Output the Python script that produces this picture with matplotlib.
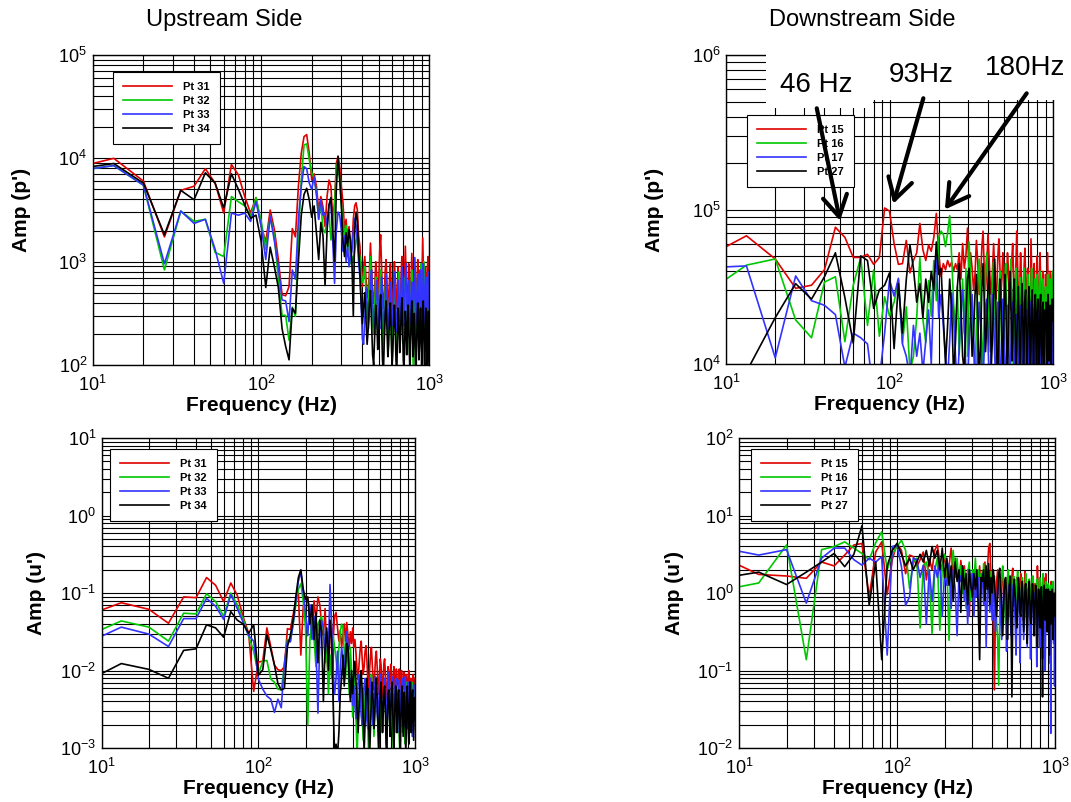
import numpy as np
import matplotlib
matplotlib.use('Agg')
import matplotlib.pyplot as plt
from matplotlib.patches import Rectangle
from matplotlib.ticker import NullFormatter

plt.rcParams['font.family'] = ['Liberation Sans', 'DejaVu Sans']
plt.rcParams['mathtext.fontset'] = 'custom'
plt.rcParams['mathtext.rm'] = 'Liberation Sans'

# FFT bins, 6.67 Hz resolution
freq = np.arange(1, 151) * 20.0 / 3.0

# ---- amplitudes, stored as log10 values ----
# upstream p'
up_p31 = [3.88, 4.00, 3.78, 3.24, 3.69, 3.73, 3.90, 3.76, 3.47, 3.94,
          3.84, 3.63, 3.47, 3.62, 3.35, 3.19, 3.50, 3.31, 3.02, 2.68,
          2.67, 2.76, 3.32, 3.24, 3.73, 4.05, 4.21, 4.23, 4.05, 3.79,
          3.85, 3.73, 3.50, 3.63, 3.53, 3.34, 3.63, 3.79, 3.73, 3.41,
          3.57, 3.95, 4.02, 3.92, 3.73, 3.57, 3.31, 3.41, 3.21, 3.34,
          3.08, 3.15, 3.41, 3.54, 3.57, 3.50, 3.25, 3.15, 2.92, 2.76,
          2.95, 3.05, 2.85, 2.65, 2.72, 2.90, 3.18, 2.95, 2.70, 2.60, 2.75, 3.00, 2.88, 2.62, 2.78,
          3.10, 3.26, 2.95, 2.70, 2.55, 2.68, 2.92, 3.02, 2.80, 2.58, 2.65, 2.85, 2.98, 2.75, 2.52,
          2.60, 2.82, 3.00, 2.85, 2.65, 2.55, 2.78, 2.95, 2.72, 2.50, 2.62, 2.88, 3.05, 2.82, 2.60,
          2.70, 2.92, 3.15, 2.90, 2.62, 2.55, 2.75, 2.98, 2.80, 2.58, 2.68, 2.90, 3.08, 2.85, 2.60,
          2.52, 2.72, 2.95, 2.78, 2.55, 2.65, 2.88, 3.02, 2.80, 2.60, 2.70, 2.92, 2.75, 2.55, 2.68,
          2.95, 3.23, 2.98, 2.70, 2.58, 2.75, 2.95, 2.80, 2.55, 2.65, 2.90, 3.05, 2.80, 2.62, 2.85]
up_p32 = [3.86, 3.93, 3.74, 2.92, 3.49, 3.39, 3.41, 3.09, 3.05, 3.63,
          3.58, 3.54, 3.44, 3.62, 3.40, 3.12, 3.44, 3.25, 2.83, 2.48,
          2.48, 2.24, 2.56, 2.47, 3.24, 3.79, 4.13, 4.14, 3.99, 3.86,
          3.81, 3.67, 3.41, 3.57, 3.31, 3.28, 3.41, 3.47, 3.21, 3.31,
          3.54, 3.89, 3.98, 3.79, 3.54, 3.41, 3.25, 3.35, 3.10, 3.25,
          2.98, 3.05, 3.00, 3.10, 3.20, 3.25, 3.10, 3.05, 2.90, 2.80,
          2.85, 2.95, 2.70, 2.45, 2.55, 2.80, 3.05, 2.75, 2.40, 2.30, 2.55, 2.85, 2.70, 2.35, 2.50,
          2.78, 2.92, 2.65, 2.35, 2.15, 2.40, 2.72, 2.85, 2.55, 2.25, 2.35, 2.62, 2.78, 2.45, 1.95,
          2.20, 2.55, 2.80, 2.62, 2.30, 2.15, 2.45, 2.72, 2.90, 2.60, 2.30, 2.45, 2.75, 2.55, 2.20,
          2.35, 2.65, 2.85, 2.60, 2.25, 2.10, 2.42, 2.70, 2.55, 2.28, 2.45, 2.75, 2.92, 2.62, 2.05,
          1.95, 2.35, 2.65, 2.50, 2.25, 2.42, 2.72, 2.88, 2.60, 2.30, 2.40, 2.68, 2.82, 2.98, 2.65,
          2.40, 2.60, 2.85, 3.00, 2.70, 2.42, 2.30, 2.55, 2.78, 2.62, 2.35, 2.25, 2.58, 2.88, 2.70]
up_p33 = [3.86, 3.93, 3.74, 2.98, 3.49, 3.37, 3.41, 3.12, 2.79, 3.47,
          3.45, 3.47, 3.39, 3.58, 3.35, 3.02, 3.44, 3.20, 2.95, 2.63,
          2.62, 2.42, 2.92, 2.83, 3.41, 3.73, 3.92, 3.90, 3.76, 3.70,
          3.82, 3.65, 3.41, 3.60, 3.45, 3.47, 3.35, 3.55, 3.58, 3.20,
          2.79, 3.30, 3.48, 3.45, 3.30, 3.10, 3.25, 3.00, 3.15, 2.95,
          3.05, 3.10, 3.30, 3.42, 3.35, 3.20, 3.00, 2.85, 2.60, 2.25,
          2.20, 2.45, 2.75, 2.60, 2.35, 2.50, 2.80, 2.92, 2.65, 2.40, 2.30, 2.55, 2.82, 2.68, 2.45,
          2.35, 2.60, 2.85, 2.70, 2.42, 2.30, 2.55, 2.88, 2.72, 2.45, 2.35, 2.62, 2.80, 2.55, 2.38,
          2.50, 2.75, 2.90, 2.65, 2.40, 2.32, 2.58, 2.82, 2.68, 2.42, 2.50, 2.78, 2.95, 2.72, 2.45,
          2.38, 2.62, 2.85, 2.98, 2.70, 2.42, 2.35, 2.60, 2.82, 2.58, 2.40, 2.55, 2.80, 2.65, 2.42,
          2.50, 2.75, 3.04, 2.80, 2.52, 2.40, 2.62, 2.88, 2.70, 2.45, 2.38, 2.65, 2.92, 2.75, 2.50,
          2.42, 2.68, 2.98, 2.85, 2.55, 2.40, 2.62, 2.85, 2.70, 2.45, 2.35, 2.60, 2.90, 2.72, 2.55]
up_p34 = [3.88, 3.95, 3.76, 3.26, 3.69, 3.60, 3.86, 3.76, 3.52, 3.85,
          3.70, 3.55, 3.42, 3.45, 3.20, 2.75, 3.14, 2.95, 2.75, 2.35,
          2.18, 2.05, 2.55, 2.50, 3.00, 3.45, 3.65, 3.71, 3.60, 3.43,
          3.54, 3.28, 3.02, 3.38, 3.25, 2.77, 3.30, 3.55, 3.62, 3.30,
          3.00, 3.70, 4.02, 3.80, 3.55, 3.20, 3.05, 3.28, 3.15, 3.31,
          3.20, 3.00, 2.47, 3.30, 3.48, 3.40, 3.10, 2.90, 2.60, 2.40,
          2.55, 2.70, 2.45, 2.20, 2.35, 2.60, 2.72, 2.40, 2.10, 2.00, 2.30, 2.58, 2.45, 2.15, 2.30,
          2.55, 2.68, 2.40, 2.05, 1.92, 2.25, 2.50, 2.62, 2.35, 2.08, 2.20, 2.48, 2.60, 2.30, 2.00,
          2.15, 2.42, 2.58, 2.35, 2.05, 1.90, 2.28, 2.55, 2.40, 2.12, 2.25, 2.50, 2.65, 2.38, 2.05,
          1.95, 2.25, 2.52, 2.40, 2.10, 2.30, 2.58, 2.45, 2.15, 1.92, 2.20, 2.48, 2.62, 2.35, 2.08,
          2.25, 2.50, 2.38, 2.05, 1.90, 2.22, 2.48, 2.60, 2.32, 2.05, 2.18, 2.45, 2.55, 2.28, 2.00,
          2.20, 2.50, 2.62, 2.35, 2.02, 1.95, 2.30, 2.55, 2.40, 2.10, 1.92, 2.25, 2.52, 2.30, 2.00]

# downstream p'
dn_p15 = [4.66, 4.83, 4.68, 4.49, 4.51, 4.61, 4.885, 4.82, 4.69, 4.69,
          4.71, 4.645, 4.69, 5.01, 4.99, 4.78, 4.645, 4.65, 4.80, 4.59,
          4.67, 4.72, 4.91, 4.74, 4.67, 4.77, 4.73, 4.82, 4.975, 4.72,
          4.565, 4.65, 4.61, 4.67, 4.63, 4.66, 4.60, 4.65, 4.61, 4.72, 4.55, 4.78, 4.62, 4.70, 4.88,
          4.55, 4.72, 4.62, 4.48, 4.58, 4.80, 4.65, 4.45, 4.52, 4.75, 4.86, 4.60, 4.48, 4.62, 4.84,
          4.68, 4.52, 4.45, 4.62, 4.78, 4.60, 4.42, 4.50, 4.70, 4.81, 4.62, 4.45, 4.55, 4.72, 4.60,
          4.42, 4.38, 4.55, 4.72, 4.62, 4.45, 4.35, 4.52, 4.68, 4.78, 4.58, 4.40, 4.48, 4.65, 4.86,
          4.65, 4.45, 4.35, 4.55, 4.72, 4.58, 4.40, 4.30, 4.48, 4.65, 4.75, 4.55, 4.38, 4.45, 4.62,
          4.50, 4.32, 4.28, 4.48, 4.81, 4.60, 4.42, 4.30, 4.45, 4.65, 4.55, 4.35, 4.25, 4.42, 4.70,
          4.58, 4.40, 4.28, 4.45, 4.72, 4.55, 4.35, 4.22, 4.40, 4.60, 4.48, 4.30, 4.20, 4.38, 4.58,
          4.48, 4.35, 4.55, 4.72, 4.50, 4.30, 4.22, 4.40, 4.60, 4.45, 4.28, 4.18, 4.35, 4.58, 4.42]
dn_p16 = [4.42, 4.64, 4.68, 4.285, 4.17, 4.53, 4.565, 4.145, 4.51, 4.69,
          4.25, 4.61, 4.18, 4.435, 4.31, 4.40, 4.545, 4.135, 4.37, 3.95,
          4.05, 4.30, 4.69, 4.29, 4.14, 4.54, 4.31, 4.67, 4.41, 4.82,
          4.86, 4.84, 4.76, 4.85, 4.96, 4.69, 4.39, 4.22, 4.50, 4.06,
          4.30, 4.55, 4.20, 4.62, 4.05,
          4.79, 4.55, 4.30, 4.10, 3.92, 4.25, 4.52, 4.68, 4.45, 4.15, 4.00, 4.35, 4.62, 4.72, 4.50,
          4.25, 4.08, 4.30, 4.55, 4.66, 4.40, 4.12, 3.95, 4.25, 4.50, 4.60, 4.35, 4.05, 3.90, 4.28,
          4.52, 4.65, 4.42, 4.15, 4.05, 4.30, 4.55, 4.68, 4.45, 4.18, 3.98, 4.25, 4.52, 4.62, 4.40,
          4.12, 4.02, 4.30, 4.56, 4.45, 4.20, 4.05, 4.28, 4.55, 4.62, 4.38, 4.08, 4.15, 4.42, 4.58,
          4.40, 4.15, 4.00, 4.25, 4.52, 4.62, 4.42, 4.15, 4.25, 4.48, 4.55, 4.30, 4.05, 4.28, 4.58,
          4.45, 4.18, 4.28, 4.52, 4.60, 4.35, 4.10, 4.20, 4.48, 4.55, 4.30, 4.02, 4.22, 4.42, 4.50,
          4.32, 4.15, 4.35, 4.58, 4.45, 4.20, 4.05, 4.28, 4.55, 4.42, 4.18, 4.30, 4.48, 4.60, 4.38]
dn_p17 = [4.62, 4.635, 4.04, 4.57, 4.41, 4.38, 4.32, 3.98, 4.20, 4.17,
          4.13, 3.80, 3.90, 4.20, 4.545, 4.44, 4.555, 4.13, 4.05, 3.90,
          4.25, 4.05, 4.20, 3.95, 4.15, 4.35, 4.00, 4.55, 4.71, 4.30,
          4.45, 4.25, 4.05, 3.90, 4.15, 4.46, 4.30, 4.05, 3.85, 4.10, 4.38, 4.48, 4.25, 3.95, 3.88,
          4.12, 4.35, 4.45, 4.20, 3.90, 3.85, 4.15, 4.40, 4.28, 4.00, 3.88, 4.10, 4.38, 4.42, 4.15,
          3.92, 3.85, 4.20, 4.45, 4.30, 4.05, 3.88, 4.12, 4.40, 4.28, 3.98, 3.85, 4.18, 4.42, 4.22,
          3.95, 3.88, 4.15, 4.38, 4.25, 4.00, 3.85, 4.10, 4.35, 4.40, 4.12, 3.90, 4.05, 4.32, 4.20,
          3.95, 3.85, 4.12, 4.38, 4.28, 4.02, 3.88, 4.15, 4.40, 4.25, 3.98, 3.90, 4.18, 4.35, 4.10,
          3.88, 4.05, 4.32, 4.40, 4.15, 3.92, 3.85, 4.12, 4.36, 4.22, 3.98, 3.88, 4.15, 4.30, 4.08,
          3.90, 4.10, 4.35, 4.25, 3.98, 3.85, 4.08, 4.30, 4.38, 4.12, 3.90, 4.02, 4.28, 4.20, 3.95,
          3.88, 4.15, 4.35, 4.22, 3.95, 3.85, 4.10, 4.30, 4.18, 3.92, 4.05, 4.28, 4.15, 3.90, 3.85]
dn_p27 = [3.60, 3.95, 4.30, 4.52, 4.42, 4.565, 4.72, 4.43, 4.135, 4.70,
          4.67, 4.36, 4.48, 4.51, 4.59, 4.10, 4.52, 4.20, 4.55, 4.77,
          4.62, 4.40, 4.52, 4.30, 4.55, 4.40, 4.60, 4.48, 4.79, 4.58,
          4.62, 4.30, 4.00, 4.25, 4.55, 4.35, 3.92, 4.15, 4.50, 4.65, 4.38, 4.05, 3.95, 4.30, 4.55,
          4.62, 4.35, 4.05, 4.20, 4.45, 4.58, 4.30, 3.90, 4.10, 4.48, 4.65, 4.40, 4.08, 4.25, 4.50,
          4.60, 4.32, 4.00, 4.18, 4.45, 4.68, 4.42, 4.05, 3.92, 4.25, 4.55, 4.45, 4.15, 3.98, 4.30,
          4.58, 4.45, 4.15, 3.90, 4.20, 4.52, 4.60, 4.35, 4.02, 4.15, 4.48, 4.55, 4.25, 3.95, 4.10,
          4.38, 4.50, 4.28, 3.92, 4.05, 4.35, 4.52, 4.30, 3.98, 4.15, 4.42, 4.48, 4.20, 3.90, 4.12,
          4.40, 4.50, 4.25, 3.95, 4.10, 4.42, 4.48, 4.22, 3.92, 4.18, 4.38, 4.45, 4.15, 4.00, 4.32,
          4.42, 4.20, 3.95, 4.12, 4.38, 4.45, 4.18, 3.90, 4.15, 4.40, 4.28, 3.98, 4.10, 4.35, 4.22,
          4.40, 4.15, 3.95, 4.18, 4.45, 4.30, 4.02, 4.20, 4.38, 4.12, 3.92, 4.15, 4.42, 4.28, 4.35]

# upstream u'
up_u31 = [-1.35, -1.125, -1.21, -1.39, -1.05, -1.06, -0.80, -0.90, -1.11, -0.87,
          -1.03, -1.31, -1.52, -2.27, -1.89, -1.88, -1.45, -1.69, -1.93, -1.99,
          -2.00, -1.95, -1.46, -1.47, -1.28, -1.10, -1.00, -1.80, -1.18, -1.05,
          -1.08, -1.22, -1.55, -1.10, -1.35, -1.05, -1.15, -1.40, -1.55, -1.20,
          -1.75, -2.16, -1.50, -1.40, -1.60, -1.30, -1.25, -1.45, -1.62, -1.48,
          -1.70, -1.55, -1.40, -1.62, -1.38, -1.55, -1.72, -1.50, -1.65, -1.45,
          -1.70, -1.60, -1.78, -2.00, -2.12, -1.90, -1.72, -1.62, -1.85, -2.05, -1.95, -1.75, -1.68, -1.88, -2.15,
          -2.22, -1.98, -1.80, -1.70, -1.90, -2.12, -2.25, -2.02, -1.82, -1.75, -1.95, -2.18, -2.30, -2.05, -1.85,
          -1.92, -2.15, -2.35, -2.10, -1.90, -1.85, -2.05, -2.28, -2.40, -2.15, -1.95, -2.05, -2.25, -2.10, -1.92,
          -2.02, -2.25, -2.38, -2.12, -1.95, -2.08, -2.30, -2.20, -1.98, -2.05, -2.28, -2.42, -2.18, -1.98, -2.10,
          -2.32, -2.20, -2.00, -2.12, -2.35, -2.45, -2.22, -2.02, -2.15, -2.38, -2.25, -2.05, -2.18, -2.40, -2.28,
          -2.08, -2.00, -2.20, -2.42, -2.30, -2.10, -2.22, -2.45, -2.35, -2.12, -2.05, -2.25, -2.40, -2.20, -2.10]
up_u32 = [-1.625, -1.36, -1.44, -1.62, -1.26, -1.27, -1.01, -1.11, -1.30, -1.00,
          -1.15, -1.34, -1.56, -1.75, -2.05, -1.88, -1.87, -2.11, -2.15, -2.24,
          -2.25, -1.95, -1.60, -1.62, -1.40, -1.15, -0.95, -0.88, -1.10, -1.45,
          -2.70, -1.60, -1.35, -1.60, -1.95, -1.40, -1.35, -1.30, -1.50, -1.90,
          -1.70, -2.30, -1.80, -2.10, -1.55, -1.70, -1.85, -2.05, -1.70, -1.50,
          -1.40, -1.45, -1.75, -2.10, -1.65, -1.90, -2.30, -1.70, -2.00, -2.60,
          -2.05, -2.30, -2.60, -3.10, -2.70, -2.35, -2.10, -2.25, -2.55, -2.90, -2.60, -2.30, -2.15, -2.40, -2.75,
          -3.10, -2.65, -2.30, -2.05, -2.25, -2.55, -2.85, -2.60, -2.35, -2.20, -2.45, -2.80, -3.05, -2.65, -2.35,
          -2.25, -2.50, -2.80, -2.55, -2.30, -2.20, -2.42, -2.70, -3.05, -2.60, -2.35, -2.25, -2.50, -2.85, -2.55,
          -2.30, -2.45, -2.75, -3.05, -2.70, -2.40, -2.25, -2.50, -2.80, -2.55, -2.30, -2.20, -2.45, -2.85, -3.10,
          -2.65, -2.35, -2.25, -2.50, -2.80, -2.60, -2.35, -2.25, -2.50, -2.95, -2.60, -2.30, -2.15, -2.45, -2.75,
          -2.55, -2.30, -2.20, -2.45, -2.80, -2.55, -2.30, -2.15, -2.40, -2.70, -2.50, -2.25, -2.35, -2.60, -2.40]
up_u33 = [-1.72, -1.44, -1.53, -1.69, -1.33, -1.33, -1.07, -1.17, -1.34, -1.02,
          -1.20, -1.38, -1.55, -1.62, -2.11, -2.24, -2.33, -2.37, -2.54, -2.37,
          -2.48, -1.90, -1.62, -1.63, -1.40, -1.10, -0.85, -0.72, -1.00, -1.25,
          -1.55, -1.15, -1.60, -1.30, -1.70, -2.55, -1.60, -1.35, -1.45, -1.80,
          -1.50, -1.75, -0.89, -1.40, -2.00, -2.30, -2.10, -1.75, -2.40, -1.95,
          -1.70, -1.85, -2.05, -1.75, -1.50, -1.65, -2.00, -2.35, -2.10, -2.45,
          -2.20, -2.45, -2.62, -2.40, -2.15, -2.05, -2.30, -2.58, -2.70, -2.45, -2.20, -2.10, -2.35, -2.65, -2.75,
          -2.50, -2.25, -2.10, -2.32, -2.60, -2.70, -2.45, -2.20, -2.08, -2.30, -2.55, -2.68, -2.42, -2.18, -2.05,
          -2.28, -2.55, -2.72, -2.48, -2.22, -2.10, -2.35, -2.62, -2.50, -2.25, -2.02, -2.30, -2.60, -2.75, -2.45,
          -2.20, -2.08, -2.32, -2.58, -2.70, -2.42, -2.18, -2.10, -2.35, -2.65, -2.80, -2.50, -2.25, -2.12, -2.38,
          -2.62, -2.48, -2.22, -2.10, -2.35, -2.60, -2.72, -2.45, -2.20, -2.08, -2.30, -2.58, -2.75, -2.50, -2.25,
          -2.15, -2.38, -2.65, -2.52, -2.28, -2.15, -2.40, -2.70, -2.85, -2.55, -2.30, -2.18, -2.42, -2.65, -2.40]
up_u34 = [-2.22, -1.91, -1.985, -2.10, -1.74, -1.72, -1.41, -1.45, -1.57, -1.24,
          -1.35, -1.40, -1.52, -1.41, -2.06, -1.99, -1.54, -1.73, -1.93, -2.17,
          -2.25, -2.23, -1.69, -1.55, -1.35, -1.05, -0.80, -0.70, -0.95, -1.08,
          -1.05, -1.40, -1.15, -1.60, -1.25, -1.90, -1.35, -1.50, -2.40, -1.70,
          -1.45, -2.00, -1.35, -1.60, -2.40, -3.10, -2.95, -3.10, -2.80, -2.30,
          -2.10, -1.80, -2.20, -1.95, -1.65, -1.70, -2.10, -2.40, -2.00, -2.30,
          -2.05, -1.88, -2.15, -2.50, -2.80, -2.45, -2.15, -2.00, -2.25, -2.60, -3.05, -2.65, -2.30, -2.10, -2.35,
          -2.70, -3.10, -2.70, -2.35, -2.15, -2.40, -2.75, -2.55, -2.25, -2.10, -2.35, -2.70, -3.05, -2.65, -2.30,
          -2.15, -2.40, -2.80, -2.55, -2.25, -2.20, -2.50, -2.95, -3.10, -2.60, -2.30, -2.25, -2.50, -2.85, -2.55,
          -2.25, -2.15, -2.45, -2.85, -3.10, -2.65, -2.35, -2.20, -2.45, -2.80, -2.60, -2.30, -2.25, -2.55, -2.95,
          -3.05, -2.60, -2.30, -2.20, -2.50, -2.85, -2.55, -2.28, -2.35, -2.70, -3.10, -2.70, -2.35, -2.20, -2.45,
          -2.80, -2.95, -2.55, -2.30, -2.15, -2.45, -2.80, -2.60, -2.30, -2.25, -2.55, -2.90, -2.60, -2.35, -2.45]

# downstream u'
dn_u15 = [0.53, 0.24, 0.22, 0.19, 0.40, 0.35, 0.49, 0.62, 0.64, -0.05,
          0.53, 0.66, -0.02, 0.43, 0.64, 0.55, 0.25, 0.49, 0.47, 0.34,
          0.43, 0.53, 0.17, 0.45, 0.30, 0.55, 0.62, 0.40, 0.30, 0.50,
          0.20, 0.35, 0.58, 0.25, 0.45, 0.30, 0.10, 0.42, 0.20, 0.35,
          0.05, 0.30, -0.30, 0.25, 0.15, 0.30, -0.05, 0.25, 0.10, 0.35,
          0.00, 0.28, 0.12, 0.40, 0.05, 0.30, 0.58, 0.64, 0.20, -0.10,
          -0.30, -1.25, -0.20, 0.15, 0.30, 0.10, -0.10, -0.25, 0.05, 0.25, 0.15, -0.05, -0.20, 0.00, 0.18,
          0.10, -0.15, -0.30, -0.05, 0.22, 0.32, 0.10, -0.12, -0.25, 0.00, 0.20, 0.12, -0.10, -0.20, 0.05,
          0.25, 0.15, -0.10, -0.35, -0.15, 0.12, 0.28, 0.05, -0.18, -0.30, -0.05, 0.15, 0.05, -0.15, -0.25,
          0.00, 0.22, 0.10, -0.15, -0.35, -0.10, 0.12, 0.02, -0.20, 0.05, 0.35, 0.15, -0.10, -0.28, -0.05,
          0.15, 0.05, -0.20, -0.35, -0.10, 0.10, 0.20, 0.00, -0.22, -0.05, 0.25, 0.08, -0.15, -0.30, -0.05,
          0.10, -0.05, -0.25, -0.40, -0.10, 0.08, 0.15, -0.05, -0.25, -0.10, 0.05, -0.08, -0.25, -0.15, -0.10]
dn_u16 = [0.01, 0.13, 0.62, -0.86, 0.56, 0.60, 0.66, 0.58, 0.51, 0.43,
          0.65, 0.79, 0.30, 0.50, 0.60, 0.68, 0.55, 0.06, 0.40, 0.45,
          -0.45, 0.35, 0.40, 0.20, -0.52, 0.30, 0.45, -0.48, 0.35, 0.50,
          0.40, -0.61, 0.30, 0.55, 0.20, 0.45, 0.10, 0.35, 0.00, 0.30,
          -0.20, 0.25, 0.40, -0.10, 0.30, 0.15, 0.45, 0.05, 0.30, -0.15,
          0.25, 0.10, 0.38, -0.05, 0.20, 0.35, 0.00, 0.28, -0.20, 0.15,
          0.10, 0.22, -0.05, -0.35, -0.60, -1.19, -0.30, 0.05, 0.25, 0.35, 0.10, -0.15, -0.40, -0.10, 0.20,
          0.30, 0.05, -0.20, -0.50, -0.15, 0.10, 0.22, 0.00, -0.25, -0.10, 0.15, 0.28, 0.05, -0.20, -0.35,
          -0.10, 0.12, 0.20, -0.05, -0.45, -0.20, 0.05, 0.25, 0.10, -0.15, -0.30, -0.05, 0.18, 0.08, -0.20,
          -0.35, -0.08, 0.15, 0.22, 0.00, -0.25, -0.40, -0.10, 0.08, 0.18, -0.05, -0.25, -0.10, 0.12, 0.20,
          0.00, -0.20, -0.45, -0.15, 0.10, 0.25, 0.05, -0.18, -0.30, -0.08, 0.15, 0.05, -0.15, -0.30, -0.05,
          0.12, 0.05, -0.15, -0.35, -0.10, 0.10, 0.02, -0.20, -0.30, -0.05, 0.15, 0.00, -0.25, -0.12, -0.20]
dn_u17 = [0.61, 0.49, 0.56, -0.13, 0.45, 0.58, 0.58, 0.43, 0.36, 0.45,
          0.40, 0.47, -0.80, 0.60, 0.62, 0.34, -0.16, -0.05, 0.45, 0.43,
          0.20, 0.36, -0.40, 0.30, -0.10, 0.35, 0.20, 0.40, -0.30, 0.25,
          0.10, 0.38, -0.20, 0.30, 0.05, -0.55, 0.25, 0.15, 0.35, -0.10,
          0.20, -0.40, 0.30, 0.05, 0.25, -0.30, 0.15, -0.05, 0.20, -0.45,
          0.10, 0.25, -0.15, 0.18, -0.70, 0.05, 0.22, -0.25, 0.10, -0.35,
          0.15, -0.10, -0.50, -0.20, 0.05, 0.20, -0.05, -0.35, -0.60, -0.25, 0.05, 0.12, -0.15, -0.75, -0.30,
          0.00, 0.10, -0.20, -0.55, -0.25, 0.05, 0.12, -0.10, -0.40, -0.80, -0.30, 0.00, 0.08, -0.25, -0.90,
          -0.35, 0.05, 0.10, -0.15, -0.60, -0.30, 0.02, -0.10, -0.40, -0.70, -0.25, 0.05, -0.05, -0.35, -0.85,
          -0.30, 0.00, 0.05, -0.20, -0.55, -0.25, 0.00, -0.15, -0.45, -0.95, -0.35, 0.02, -0.10, -0.40, -0.70,
          -0.20, 0.00, -0.15, -0.50, -0.85, -0.30, -0.05, -0.20, -0.60, -1.00, -0.35, -0.05, -0.15, -0.50, -0.25,
          -0.05, -0.20, -0.55, -0.90, -0.35, -1.81, -0.30, -0.10, -0.25, -0.50, -0.20, -0.65, -0.30, -1.20, -0.30]
dn_u27 = [0.17, 0.27, 0.11, 0.27, 0.40, 0.51, 0.34, 0.50, 0.87, -0.155,
          0.40, -0.86, 0.35, 0.55, 0.64, 0.50, 0.35, 0.45, 0.30, 0.40,
          0.50, 0.40, 0.55, 0.35, 0.60, 0.45, 0.55, 0.30, 0.58, 0.20,
          0.45, 0.10, 0.35, -0.10, 0.40, 0.15, 0.30, -0.25, 0.35, 0.05,
          0.25, -0.15, 0.30, 0.10, -0.05, 0.25, 0.05, 0.30, -0.20, -0.86,
          0.20, 0.15, 0.30, -0.10, 0.35, 0.05, 0.38, -0.15, 0.20, 0.00,
          0.30, 0.15, -0.10, -0.30, 0.00, 0.25, 0.32, 0.05, -0.20, -0.55, -0.15, 0.15, 0.20, -0.05, -0.60,
          -0.20, 0.10, 0.22, -0.30, -1.34, -0.25, 0.05, 0.18, -0.05, -0.30, -0.45, -0.10, 0.20, 0.05, -0.25,
          -0.30, 0.00, 0.15, -0.10, -0.50, -0.20, 0.10, 0.12, -0.15, -0.65, -0.20, 0.05, 0.15, -0.10, -0.35,
          -0.40, -0.05, 0.12, 0.00, -0.30, -0.55, -0.15, 0.10, 0.05, -0.20, -0.70, -0.25, 0.05, -0.05, -0.30,
          -0.45, -0.10, 0.08, -0.40, -1.34, -0.30, 0.02, 0.10, -0.15, -0.35, -0.10, 0.05, -0.15, -0.50, -0.20,
          0.05, -0.25, -0.80, -0.30, 0.02, -0.10, -0.40, -0.15, 0.05, -0.20, -0.60, -0.20, 0.00, -0.30, -0.20]

colors = ['#e00000', '#00c800', '#3333ff', 'black']
up_labels = ['Pt 31', 'Pt 32', 'Pt 33', 'Pt 34']
dn_labels = ['Pt 15', 'Pt 16', 'Pt 17', 'Pt 27']

fig = plt.figure(figsize=(10.71, 8.02), dpi=100)

def make_panel(rect, series, labels, ylim, ylabel, leg_xy, ylab_pad):
    ax = fig.add_axes(rect)
    for vals, c, lab in zip(series, colors, labels):
        ax.plot(freq, 10 ** np.array(vals), color=c, lw=1.2, label=lab)
    ax.set_xscale('log')
    ax.set_yscale('log')
    ax.set_xlim(10, 1000)
    ax.set_ylim(*ylim)
    ax.grid(True, which='both', color='black', lw=0.8)
    ax.xaxis.set_minor_formatter(NullFormatter())
    ax.yaxis.set_minor_formatter(NullFormatter())
    ax.tick_params(which='both', length=0, labelsize=13)
    ax.tick_params(axis='x', pad=7)
    ax.tick_params(axis='y', pad=4)
    for s in ax.spines.values():
        s.set_linewidth(1.0)
    ax.set_xlabel('Frequency (Hz)', fontsize=15, fontweight='bold', labelpad=1)
    ax.set_ylabel(ylabel, fontsize=15, fontweight='bold', labelpad=ylab_pad)
    leg = ax.legend(loc='upper left', bbox_to_anchor=leg_xy, prop={'weight': 'bold', 'size': 8},
                    fancybox=False, edgecolor='black', framealpha=1, handlelength=4.4,
                    handletextpad=1.0, borderpad=0.9, labelspacing=0.35, borderaxespad=0)
    leg.get_frame().set_linewidth(0.8)
    return ax

ax_tl = make_panel([0.0866, 0.5449, 0.3143, 0.3865], [up_p31, up_p32, up_p33, up_p34],
                   up_labels, (1e2, 1e5), "Amp (p')", (0.060, 0.945), 20)
ax_tr = make_panel([0.6779, 0.5461, 0.3053, 0.3853], [dn_p15, dn_p16, dn_p17, dn_p27],
                   dn_labels, (1e4, 1e6), "Amp (p')", (0.064, 0.806), 20)
ax_bl = make_panel([0.0950, 0.0673, 0.2925, 0.3865], [up_u31, up_u32, up_u33, up_u34],
                   up_labels, (1e-3, 1e1), "Amp (u')", (0.026, 0.965), 10)
ax_br = make_panel([0.6900, 0.0673, 0.2951, 0.3865], [dn_u15, dn_u16, dn_u17, dn_u27],
                   dn_labels, (1e-2, 1e2), "Amp (u')", (0.038, 0.965), 10)

fig.text(0.209, 0.975, 'Upstream Side', ha='center', va='center', fontsize=17)
fig.text(0.805, 0.975, 'Downstream Side', ha='center', va='center', fontsize=17)

# white label boxes over the top of the downstream p' panel
ax_tr.add_patch(Rectangle((0.122, 0.828), 0.328, 0.2, transform=ax_tr.transAxes,
                          facecolor='white', edgecolor='none', zorder=4, clip_on=False))
ax_tr.add_patch(Rectangle((0.45, 0.854), 0.61, 0.18, transform=ax_tr.transAxes,
                          facecolor='white', edgecolor='none', zorder=4, clip_on=False))

peak_labels = ['46 Hz', '93Hz', '180Hz']
label_pos = [(0.275, 0.903), (0.596, 0.935), (0.914, 0.958)]
arrow_head = [(49.8, 8.46e4), (105.5, 1.09e5), (218, 1.0e5)]
arrow_tail = [(35.9, 4.52e5), (161, 5.25e5), (690, 5.65e5)]
for txt, pos, hd, tl in zip(peak_labels, label_pos, arrow_head, arrow_tail):
    ax_tr.text(pos[0], pos[1], txt, transform=ax_tr.transAxes, ha='center', va='center',
               fontsize=20, zorder=6, clip_on=False)
    ax_tr.annotate('', xy=hd, xytext=tl, annotation_clip=False, zorder=7,
                   arrowprops=dict(arrowstyle='->,head_length=0.6,head_width=0.35', lw=3,
                                   color='black', mutation_scale=25, shrinkA=0, shrinkB=0))

fig.savefig('out.png', dpi=100)
